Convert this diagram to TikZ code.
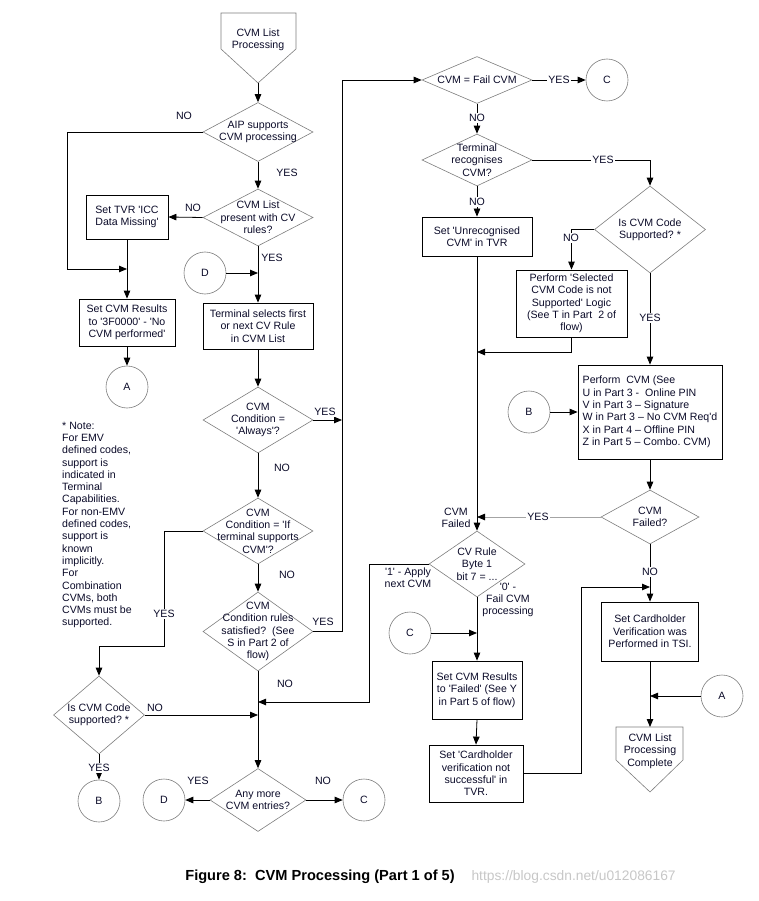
\documentclass[tikz,border=0pt]{standalone}
\usepackage{fontspec}
\setmainfont{Liberation Sans}[Ligatures=TeXOff]
\usepackage{tikz}
\usetikzlibrary{shapes.geometric,arrows.meta}
\frenchspacing

\definecolor{ink}{RGB}{10,10,40}
\definecolor{edge}{RGB}{125,125,125}

\tikzset{
	box/.style={draw,line width=0.8pt,inner sep=2pt,align=center},
	decision/.style={diamond,draw=edge,line width=0.6pt,inner sep=0pt},
	tag/.style={circle,draw=edge,line width=0.6pt,minimum size=42pt,inner sep=0pt},
	word/.style={align=center,inner sep=0pt},
	yesno/.style={fill=white,inner sep=1pt},
	flow/.style={->,line width=0.8pt},
	every node/.style={text=ink,font=\fontsize{10.6}{12.3}\selectfont},
}

\begin{document}
\begin{tikzpicture}[x=1pt,y=-1pt,>={Stealth[length=8pt,width=6.5pt,inset=0pt]}]
	\useasboundingbox (0,0) rectangle (759,901);

	%start and end shapes
	\draw[draw=edge,line width=0.6pt] (221,13)--(296,13)--(296,49)--(258,83)--(221,49)--cycle;
		\node[word] (start) at (258,40) {CVM List\\Processing};
		\coordinate (starttip) at (258,83);
	\draw[draw=edge,line width=0.6pt] (616,727)--(683,727)--(683,760)--(650,792)--(616,760)--cycle;
		\node[word] (finish) at (650,751) {CVM List\\Processing\\Complete};
		\coordinate (finishtop) at (650,727);

	%main column
	\node[decision,minimum width=110pt,minimum height=59pt] (aip) at (258,132) {};
		\node[word] (aiptext) at (aip) {AIP supports\\CVM processing};
	\node[decision,minimum width=110pt,minimum height=57pt] (cvmlist) at (258,217.5) {};
		\node[word] (cvmlisttext) at (cvmlist) {CVM List\\present with CV\\rules?};
	\node[box,minimum width=110pt,minimum height=46pt] (select) at (258,326) {Terminal selects first\\or next CV Rule\\in CVM List};
	\node[decision,minimum width=110pt,minimum height=66pt] (always) at (258,420) {};
		\node[word] (alwaystext) at (always) {CVM\\Condition =\\'Always'?};
	\node[decision,minimum width=110pt,minimum height=66pt] (ifterm) at (258,531) {};
		\node[word] (iftermtext) at (ifterm) {CVM\\Condition = 'If\\terminal supports\\CVM'?};
	\node[decision,minimum width=110pt,minimum height=79pt] (rules) at (258,631.5) {};
		\node[word] (rulestext) at (rules) {CVM\\Condition rules\\satisfied?\ \ (See\\S in Part 2 of\\flow)};
	\node[decision,minimum width=96pt,minimum height=63pt] (anymore) at (258,800) {};
		\node[word] (anymoretext) at (anymore) {Any more\\CVM entries?};

	%left column
	\node[box,minimum width=82pt,minimum height=44pt] (tvr) at (127,217) {Set TVR 'ICC\\Data Missing'};
	\node[box,minimum width=96pt,minimum height=47pt] (res3f) at (127,322.5) {Set CVM Results\\to '3F0000' - 'No\\CVM performed'};
	\node[tag] (a1) at (127,387) {A};
	\node[tag] (d1) at (205,273) {D};
	\node[decision,minimum width=91pt,minimum height=78pt] (iscode) at (99,715) {};
		\node[word] (iscodetext) at (iscode) {Is CVM Code\\supported? *};
	\node[tag] (b1) at (99,801) {B};
	\node[tag] (d2) at (164,800) {D};
	\node[tag] (c2) at (364,800) {C};
	\node[word,align=left,anchor=west] (note) at (62,525) {* Note:\\For EMV\\defined codes,\\support is\\indicated in\\Terminal\\Capabilities.\\For non-EMV\\defined codes,\\support is\\known\\implicitly.\\For\\Combination\\CVMs, both\\CVMs must be\\supported.};

	%middle column
	\node[decision,minimum width=110pt,minimum height=47pt] (failcvm) at (477,80) {};
		\node[word] (failcvmtext) at (failcvm) {CVM = Fail CVM};
	\node[tag] (c1) at (607,80) {C};
	\node[decision,minimum width=110pt,minimum height=52pt] (recog) at (477,160) {};
		\node[word] (recogtext) at (recog) {Terminal\\recognises\\CVM?};
	\node[box,minimum width=110pt,minimum height=39pt] (unrec) at (477,236.5) {Set 'Unrecognised\\CVM' in TVR};
	\node[decision,minimum width=96pt,minimum height=66pt] (cvrule) at (477,564) {};
		\node[word] (cvruletext) at (cvrule) {CV Rule\\Byte 1\\bit 7 = ...};
	\node[tag] (c3) at (410,633) {C};
	\node[box,minimum width=90pt,minimum height=58pt] (failres) at (477,690) {Set CVM Results\\to 'Failed' (See Y\\in Part 5 of flow)};
	\node[box,minimum width=94pt,minimum height=57pt] (notsucc) at (476,773.5) {Set 'Cardholder\\verification not\\successful' in\\TVR.};

	%right column
	\node[decision,minimum width=111pt,minimum height=87pt] (supported) at (650,229.5) {};
		\node[word] (supportedtext) at (supported) {Is CVM Code\\Supported? *};
	\node[box,minimum width=111pt,minimum height=67pt] (notsupp) at (571.5,303.5) {Perform 'Selected\\CVM Code is not\\Supported' Logic\\(See T in Part\ \ 2 of\\flow)};
	\node[box,align=left,inner xsep=4pt,minimum width=144pt,minimum height=94pt] (perform) at (650,412) {Perform\ \ CVM (See\\U in Part 3 -\ \ Online PIN\\V in Part 3 – Signature\\W in Part 3 – No CVM Req'd\\X in Part 4 – Offline PIN\\Z in Part 5 – Combo. CVM)};
	\node[tag] (b2) at (529,412) {B};
	\node[decision,minimum width=98pt,minimum height=54pt] (cvmfailed) at (650,517) {};
		\node[word] (cvmfailedtext) at (cvmfailed) {CVM\\Failed?};
	\node[box,minimum width=97pt,minimum height=59pt] (cardh) at (650,631.5) {Set Cardholder\\Verification was\\Performed in TSI.};
	\node[tag] (a2) at (722,696) {A};

	%joins on the lines
	\coordinate (j1) at (127,269);
	\coordinate (j2) at (258,273);
	\coordinate (j3) at (342,420);
	\coordinate (j4) at (258,715);
	\coordinate (j5) at (258,702);
	\coordinate (j6) at (477,352);
	\coordinate (j7) at (477,517);
	\coordinate (j8) at (477,633);
	\coordinate (j9) at (650,587);
	\coordinate (j10) at (650,696);

	%main column arrows
	\draw[flow] (starttip)--(aip.north);
	\draw[flow] (aip.west)-|(67,269)--(j1);				%NO from AIP
	\draw[flow] (aip.south)--(cvmlist.north);
	\draw[flow] (cvmlist.west)--(tvr.east);
	\draw[flow] (tvr.south)--(res3f.north);
	\draw[flow] (res3f.south)--(a1.north);
	\draw[flow] (cvmlist.south)--(select.north);
	\draw[flow] (d1.east)--(j2);
	\draw[flow] (select.south)--(always.north);
	\draw[flow] (always.east)--(j3);
	\draw[flow] (always.south)--(ifterm.north);
	\draw[flow] (ifterm.west)-|(164,646)-|(iscode.north);		%YES to code check
	\draw[flow] (ifterm.south)--(rules.north);
	\draw[flow] (rules.east)--++(29,0)|-(failcvm.west);		%long right line
	\draw[flow] (rules.south)--(anymore.north);
	\draw[flow] (iscode.east)--(j4);
	\draw[flow] (iscode.south)--(b1.north);
	\draw[flow] (anymore.west)--(d2.east);
	\draw[flow] (anymore.east)--(c2.west);

	%middle and right arrows
	\draw[flow] (failcvm.east)--(c1.west);
	\draw[flow] (failcvm.south)--(recog.north);
	\draw[flow] (recog.east)-|(supported.north);
	\draw[flow] (recog.south)--(unrec.north);
	\draw[flow] (supported.west)-|(notsupp.north);
	\draw[flow] (supported.south)--(perform.north);
	\draw[flow] (notsupp.south)|-(j6);
	\draw[flow] (unrec.south)--(cvrule.north);
	\draw[flow] (b2.east)--(perform.west);
	\draw[flow] (perform.south)--(cvmfailed.north);
	\draw[line width=0.8pt,draw=edge!70,->,>={Stealth[length=8pt,width=6.5pt,inset=0pt,color=black]}] (cvmfailed.west)--(j7);	%grey YES line
	\draw[flow] (cvmfailed.south)--(cardh.north);
	\draw[flow] (cvrule.west)--++(-59,0)|-(j5);			%apply next CVM
	\draw[flow] (cvrule.south)--(failres.north);
	\draw[flow] (c3.east)--(j8);
	\draw[flow] (failres.south)--(notsucc.north);
	\draw[flow] (notsucc.east)--++(58,0)|-(j9);
	\draw[flow] (cardh.south)--(finishtop);
	\draw[flow] (a2.west)--(j10);

	%labels
	\node[yesno] (n1) at (184,116) {NO};
	\node[yesno] (y1) at (287,173) {YES};
	\node[yesno] (n2) at (193,208) {NO};
	\node[yesno] (y2) at (272,258) {YES};
	\node[yesno] (y3) at (325,412) {YES};
	\node[yesno] (n3) at (282,468) {NO};
	\node[yesno] (y4) at (164,614) {YES};
	\node[yesno] (n4) at (287,575) {NO};
	\node[yesno] (y5) at (323,622) {YES};
	\node[yesno] (n5) at (285,684) {NO};
	\node[yesno] (n6) at (155,708) {NO};
	\node[yesno] (y6) at (99,768) {YES};
	\node[yesno] (y7) at (198,781) {YES};
	\node[yesno] (n7) at (323,781) {NO};
	\node[yesno] (y8) at (559,80) {YES};
	\node[yesno] (n8) at (477,118) {NO};
	\node[yesno] (y9) at (603,160) {YES};
	\node[yesno] (n9) at (477,202) {NO};
	\node[yesno] (n10) at (571,238) {NO};
	\node[yesno] (y10) at (650,318) {YES};
	\node[yesno] (y11) at (538,517) {YES};
	\node[yesno] (n11) at (650,572) {NO};
	\node[word] (failedlbl) at (456,518) {CVM\\Failed};
	\node[word] (applylbl) at (408,578) {'1' - Apply\\next CVM};
	\node[word] (faillbl) at (508,600) {'0' -\\Fail CVM\\processing};

	%caption
	\node[anchor=base,text=black,font=\fontsize{14.6}{17}\selectfont\bfseries] (caption) at (320,880) {Figure 8:\ \ CVM Processing (Part 1 of 5)};
	\node[anchor=base west,text=black!22,font=\fontsize{13.8}{16}\selectfont] (mark) at (468,880) {https://blog.csdn.net/u012086167};
\end{tikzpicture}
\end{document}
